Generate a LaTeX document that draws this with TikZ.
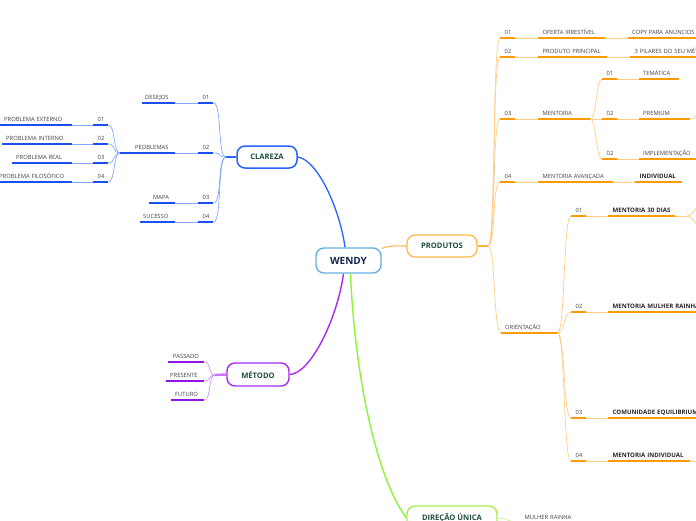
\documentclass[tikz,border=0pt]{standalone}
\usepackage{fontspec}
\setmainfont{Open Sans}
\usetikzlibrary{backgrounds}
\definecolor{blm}{HTML}{2B62FF}
\definecolor{blu}{HTML}{1B4FEE}
\definecolor{bll}{HTML}{86A6FF}
\definecolor{orm}{HTML}{FFB547}
\definecolor{oru}{HTML}{FF9A00}
\definecolor{orl}{HTML}{FFCD85}
\definecolor{pum}{HTML}{A82AF2}
\definecolor{puu}{HTML}{9414E6}
\definecolor{pul}{HTML}{D191F8}
\definecolor{grm}{HTML}{8CF43A}
\definecolor{grb}{HTML}{A6F04E}
\definecolor{grl}{HTML}{C2F58C}
\definecolor{wbd}{HTML}{6AAFE0}
\definecolor{maintxt}{HTML}{1E4D3F}
\definecolor{navy}{HTML}{14284B}
\definecolor{lbtxt}{HTML}{404040}
\newcommand\lbfont{\fontsize{5.8}{7}\selectfont}
\newcommand\lbbfont{\fontsize{6.1}{7}\selectfont\bfseries}
\newcommand\lab[6]{\node[#1, text width=#5pt] (#2) at (#3,#4) {#6};}
\tikzset{
  lb/.style={anchor=south west, inner xsep=4.5pt, inner ysep=3pt, text height=4.2pt, text depth=0pt,
    align=left, font=\lbfont, text=lbtxt,
    execute at begin node={\hbox\bgroup}, execute at end node={\egroup}},
  lbb/.style={lb, font=\lbbfont, text=black!85},
  mainbox/.style={rounded corners=8pt, draw, fill=white, line width=1.4pt, inner sep=0pt,
    font=\fontsize{7.6}{9}\selectfont\bfseries, text=maintxt},
  ulB/.style={blu, line width=1.3pt},
  ulO/.style={oru, line width=1.3pt},
  ulP/.style={puu, line width=1.3pt},
  fanB/.style={bll, line width=0.7pt},
  fanO/.style={orl, line width=0.7pt},
  fanP/.style={pul, line width=0.7pt},
  fanG/.style={grl, line width=0.7pt},
}
\begin{document}
\begin{tikzpicture}[x=1pt,y=-1pt]
\useasboundingbox (0,0) rectangle (696,520);
\clip (0,0) rectangle (696,520);

% main nodes
\node[mainbox, draw=wbd, minimum width=65pt, minimum height=25pt, font=\fontsize{10}{12}\selectfont\bfseries, text=navy] (wendy) at (348.5,260.5) {WENDY};
\node[mainbox, draw=blm, line width=1.5pt, minimum width=60pt, minimum height=22pt] (clareza) at (267,157) {CLAREZA};
\node[mainbox, draw=orm, line width=1.2pt, minimum width=70pt, minimum height=22pt] (produtos) at (442,246) {PRODUTOS};
\node[mainbox, draw=pum, minimum width=62pt, minimum height=23pt] (metodo) at (258,374.5) {MÉTODO};
\node[mainbox, draw=grb, minimum width=90pt, minimum height=24pt] (direcao) at (452,518) {DIREÇÃO ÚNICA};

% CLAREZA labels
\lab{lb}{c01}{198}{103}{6}{01}
\lab{lb,inner xsep=3pt}{des}{142}{103}{27}{DESEJOS}
\lab{lb}{c02}{198}{153}{6}{02}
\lab{lb,inner xsep=15pt}{peo}{120}{153}{25}{PEOBLEMAS}
\lab{lb}{c03}{198}{203}{6}{03}
\lab{lb,inner xsep=4pt}{mapa}{149}{203}{18}{MAPA}
\lab{lb}{c04}{198}{222}{6}{04}
\lab{lb,inner xsep=3pt}{suc}{140}{222}{29}{SUCESSO}
\lab{lb}{p01}{93}{125}{6}{01}
\lab{lb,inner xsep=8pt}{pe}{-4}{125}{60}{PROBLEMA EXTERNO}
\lab{lb}{p02}{93}{144}{6}{02}
\lab{lb,inner xsep=4pt}{pi}{2}{144}{62}{PROBLEMA INTERNO}
\lab{lb}{p03}{93}{163}{6}{03}
\lab{lb,inner xsep=4pt}{pr}{12}{163}{52}{PROBLEMA REAL}
\lab{lb}{p04}{93}{182}{6}{04}
\lab{lb,inner xsep=5pt}{pf}{-6}{182}{68}{PROBLEMA FILOSÓFICO}

% METODO labels
\lab{lb,inner xsep=5pt}{pas}{168}{362}{26}{PASSADO}
\lab{lb,inner xsep=4pt}{pres}{166}{381}{30}{PRESENTE}
\lab{lb,inner xsep=4pt}{fut}{171}{400}{25}{FUTURO}

% PRODUTOS labels
\lab{lb}{o01}{500}{38}{6}{01}
\lab{lb}{ofe}{538}{38}{58}{OFERTA IRRESTÍVEL}
\lab{lb,inner xsep=4pt}{cop}{628}{38}{72}{COPY PARA ANÚNCIOS}
\lab{lb}{o02}{500}{57}{6}{02}
\lab{lb}{pro}{538}{57}{60}{PRODUTO PRINCIPAL}
\lab{lb}{pil}{630}{57}{81}{3 PILARES DO SEU MÉTODO}
\lab{lb}{o03}{500}{119}{6}{03}
\lab{lb}{men}{538}{119}{43}{MENTORIA}
\lab{lb}{m01}{602}{79}{6}{01}
\lab{lb,inner xsep=4pt}{tem}{639}{79}{32}{TEMÁTICA}
\lab{lb}{m02}{602}{119}{6}{02}
\lab{lb,inner xsep=4pt}{prem}{639}{119}{43}{PREMIUM}
\lab{lb}{m03}{602}{159}{6}{02}
\lab{lb,inner xsep=4pt}{imp}{639}{159}{62}{IMPLEMENTAÇÃO}
\lab{lb}{o04}{500}{182}{6}{04}
\lab{lb}{mav}{538}{182}{66}{MENTORIA AVANÇADA}
\lab{lbb}{ind}{635}{182}{38}{INDIVIDUAL}
\lab{lb,inner xsep=4pt}{ori}{501}{333}{48}{ORIENTAÇÃO}
\lab{lb}{r01}{571}{216}{6}{01}
\lab{lbb}{r1t}{608}{216}{58}{MENTORIA 30 DIAS}
\lab{lb}{r02}{571}{312}{6}{02}
\lab{lbb}{r2t}{608}{312}{101}{MENTORIA MULHER RAINHA}
\lab{lb}{r03}{571}{418}{6}{03}
\lab{lbb}{r3t}{608}{418}{106}{COMUNIDADE EQUILIBRIUM}
\lab{lb}{r04}{571}{461}{6}{04}
\lab{lbb}{r4t}{608}{461}{73}{MENTORIA INDIVIDUAL}

% DIRECAO label
\lab{lb}{mr}{520}{523}{60}{MULHER RAINHA}

% underlines
\foreach \n in {c01,des,c02,peo,c03,mapa,c04,suc,p01,pe,p02,pi,p03,pr,p04,pf}
  \draw[ulB] (\n.south west) -- (\n.south east);
\foreach \n in {pas,pres,fut}
  \draw[ulP] (\n.south west) -- (\n.south east);
\foreach \n in {o01,ofe,cop,o02,pro,pil,o03,men,m01,tem,m02,prem,m03,imp,o04,mav,ind,ori,r01,r1t,r02,r2t,r03,r3t,r04,r4t}
  \draw[ulO] (\n.south west) -- (\n.south east);

\begin{scope}[on background layer]
  % main connectors
  \draw[line width=1.3pt, blm] (clareza.east) .. controls (318,160) and (340,210) .. ([xshift=-3.5pt]wendy.north);
  \draw[line width=1.1pt, orm] (wendy.20) .. controls (392,245) and (395,246) .. (produtos.west);
  \draw[line width=1.4pt, pum] ([xshift=-5pt]wendy.south) .. controls (337,320) and (310,374) .. (metodo.east);
  \draw[line width=1.4pt, grm] ([xshift=2pt]wendy.south) .. controls (354,360) and (372,470) .. (direcao.west);
  % stubs
  \coordinate (cst) at (226,157);
  \coordinate (pst) at (488,246);
  \coordinate (mst) at (215,375);
  \draw[line width=2pt, blm] (clareza.west) -- (cst);
  \draw[line width=2pt, orm] (produtos.east) -- (pst);
  \draw[line width=2.5pt, pum!65] (metodo.west) -- (mst);
  % CLAREZA fans
  \foreach \n in {c01,c02,c03,c04}
    \draw[fanB] (cst) .. controls +(-9,0) and +(9,0) .. (\n.south east);
  \foreach \n in {p01,p02,p03,p04}
    \draw[fanB] (peo.south west) .. controls +(-7,0) and +(7,0) .. (\n.south east);
  \foreach \a/\b in {des/c01,peo/c02,mapa/c03,suc/c04,pe/p01,pi/p02,pr/p03,pf/p04}
    \draw[fanB] (\a.south east) -- (\b.south west);
  % METODO fans
  \foreach \n in {pas,pres,fut}
    \draw[fanP] (mst) .. controls +(-7,0) and +(7,0) .. (\n.south east);
  % PRODUTOS fans
  \foreach \n in {o01,o02,o03,o04,ori}
    \draw[fanO] (pst) .. controls +(8,0) and +(-8,0) .. (\n.south west);
  \foreach \n in {m01,m02,m03}
    \draw[fanO] (men.south east) .. controls +(6,0) and +(-6,0) .. (\n.south west);
  \foreach \n in {r01,r02,r03,r04}
    \draw[fanO] (ori.south east) .. controls +(8,0) and +(-8,0) .. (\n.south west);
  \foreach \a/\b in {o01/ofe,ofe/cop,o02/pro,pro/pil,o03/men,m01/tem,m02/prem,m03/imp,o04/mav,mav/ind,r01/r1t,r02/r2t,r03/r3t,r04/r4t}
    \draw[fanO] (\a.south east) -- (\b.south west);
  % off-picture continuations
  \coordinate (f30) at (687,216);
  \coordinate (f30a) at (706,200);
  \coordinate (f30b) at (706,232);
  \coordinate (prx) at (708,104);
  \coordinate (r4x) at (720,461);
  \draw[fanO] (r1t.south east) -- (f30);
  \draw[fanO] (f30) .. controls +(6,0) and +(-6,0) .. (f30a);
  \draw[fanO] (f30) .. controls +(6,0) and +(-6,0) .. (f30b);
  \draw[fanO] (prem.south east) .. controls +(8,0) and +(-8,0) .. (prx);
  \draw[fanO] (r4t.south east) -- (r4x);
  % DIRECAO
  \draw[fanG] (direcao.east) .. controls +(10,0) and +(-10,0) .. (mr.south west);
\end{scope}
\end{tikzpicture}
\end{document}
